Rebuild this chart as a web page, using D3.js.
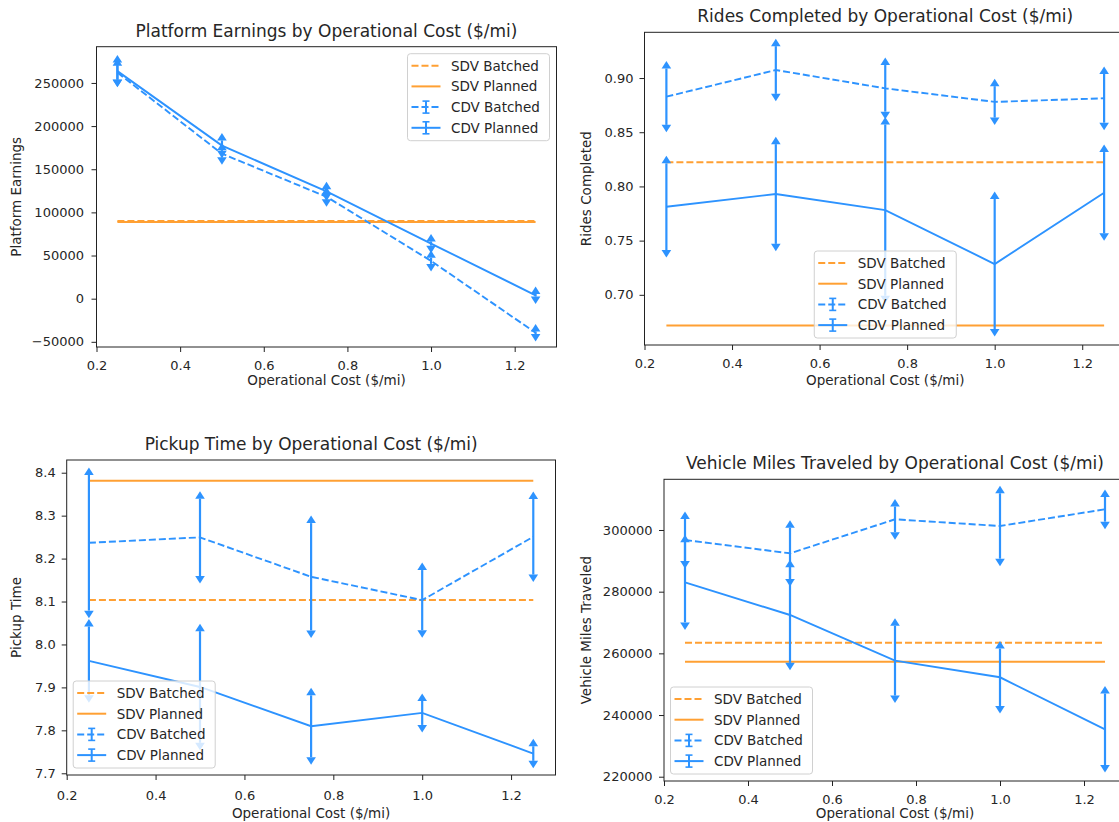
<!DOCTYPE html>
<html>
<head>
<meta charset="utf-8">
<script src="https://cdn.jsdelivr.net/npm/d3@7"></script>
<style>
  body { margin: 0; background: #fff; }
  svg text { font-family: "DejaVu Sans", sans-serif; fill: #262626; }
</style>
</head>
<body>
<svg id="chart" width="1119" height="822"></svg>
<script>
// operational cost ($/mi) used on every panel
var costs = [0.25, 0.5, 0.75, 1.0, 1.25];
var xTicks = [0.2, 0.4, 0.6, 0.8, 1.0, 1.2];
var seriesNames = ["SDV Batched", "SDV Planned", "CDV Batched", "CDV Planned"];

// Platform earnings
var earnBatched = [262000, 168000, 118100, 43800, -39500];
var earnBatchedErr = [8000, 4000, 3000, 3500, 1500];
var earnPlanned = [263700, 177400, 124300, 63900, 3900];
var earnPlannedErr = [10000, 6000, 2500, 2500, 1500];
var earnSdv = [90000, 89000]; // batched, planned
var earnTicks = [-50000, 0, 50000, 100000, 150000, 200000, 250000];

// Rides completed
var ridesBatched = [0.8828, 0.9074, 0.8905, 0.878, 0.8813];
var ridesBatchedErr = [0.026, 0.022, 0.0215, 0.0145, 0.0225];
var ridesPlanned = [0.7813, 0.793, 0.7782, 0.7284, 0.7942];
var ridesPlannedErr = [0.04, 0.046, 0.079, 0.06, 0.0375];
var ridesSdv = [0.8222, 0.6718];
var ridesTicks = [0.70, 0.75, 0.80, 0.85, 0.90];

// Pickup time
var pickBatched = [8.2368, 8.2494, 8.1576, 8.1033, 8.2508];
var pickBatchedErr = [0.158, 0.09, 0.125, 0.07, 0.088];
var pickPlanned = [7.9618, 7.901, 7.8096, 7.8406, 7.746];
var pickPlannedErr = [0.08, 0.13, 0.072, 0.028, 0.017];
var pickSdv = [8.1033, 8.381];
var pickTicks = [7.7, 7.8, 7.9, 8.0, 8.1, 8.2, 8.3, 8.4];

// Vehicle miles traveled
var vmtBatched = [296760, 292440, 303460, 301300, 306710];
var vmtBatchedErr = [6800, 8300, 4150, 10600, 4000];
var vmtPlanned = [283040, 272440, 257630, 252240, 235380];
var vmtPlannedErr = [13000, 15500, 11300, 9300, 11600];
var vmtSdv = [263460, 257300];
var vmtTicks = [220000, 240000, 260000, 280000, 300000];

var orange = "#ffa033", blue = "#2d93ff";

var panels = [
  {title: "Platform Earnings by Operational Cost ($/mi)", ylabel: "Platform Earnings",
   batched: earnBatched, batchedErr: earnBatchedErr, planned: earnPlanned, plannedErr: earnPlannedErr,
   sdv: earnSdv, ticks: earnTicks, fmt: d3.format("d"), yDomain: [-56000, 292000],
   box: {l: 96.5, r: 556.5, t: 46.7, b: 347}, yl: 20.5, legend: "ur",
   xpad: 9, ypad: 7.5, xlab: 38},
  {title: "Rides Completed by Operational Cost ($/mi)", ylabel: "Rides Completed",
   batched: ridesBatched, batchedErr: ridesBatchedErr, planned: ridesPlanned, plannedErr: ridesPlannedErr,
   sdv: ridesSdv, ticks: ridesTicks, fmt: d3.format(".2f"), yDomain: [0.6537, 0.9422],
   box: {l: 644.5, r: 1126, t: 32.3, b: 345}, yl: 591, legend: "lc",
   xpad: 9, ypad: 6, xlab: 40},
  {title: "Pickup Time by Operational Cost ($/mi)", ylabel: "Pickup Time",
   batched: pickBatched, batchedErr: pickBatchedErr, planned: pickPlanned, plannedErr: pickPlannedErr,
   sdv: pickSdv, ticks: pickTicks, fmt: d3.format(".1f"), yDomain: [7.696, 8.4296],
   box: {l: 66.7, r: 555.5, t: 460, b: 775}, yl: 20.5, legend: "ll",
   xpad: 10.5, ypad: 6, xlab: 42.5},
  {title: "Vehicle Miles Traveled by Operational Cost ($/mi)", ylabel: "Vehicle Miles Traveled",
   batched: vmtBatched, batchedErr: vmtBatchedErr, planned: vmtPlanned, plannedErr: vmtPlannedErr,
   sdv: vmtSdv, ticks: vmtTicks, fmt: d3.format("d"), yDomain: [218610, 316440],
   box: {l: 664, r: 1126, t: 479.3, b: 781}, yl: 591, legend: "ll",
   xpad: 9, ypad: 6.5, xlab: 37}
];

var svg = d3.select("#chart");

panels.forEach(drawPanel);

function drawPanel(p) {
  var b = p.box;
  var x = d3.scaleLinear().domain([0.2, 1.3]).range([b.l, b.r]);
  var y = d3.scaleLinear().domain(p.yDomain).range([b.b, b.t]);
  var g = svg.append("g");

  // SDV reference lines
  [0, 1].forEach(function(k) {
    g.append("line")
      .attr("x1", x(costs[0])).attr("x2", x(costs[costs.length - 1]))
      .attr("y1", y(p.sdv[k])).attr("y2", y(p.sdv[k]))
      .attr("stroke", orange).attr("stroke-width", 2)
      .attr("stroke-dasharray", k == 0 ? "7,3" : null);
  });

  // CDV error bar series
  errSeries(g, x, y, p.batched, p.batchedErr, true);
  errSeries(g, x, y, p.planned, p.plannedErr, false);

  // frame
  g.append("rect")
    .attr("x", b.l).attr("y", b.t)
    .attr("width", b.r - b.l).attr("height", b.b - b.t)
    .attr("fill", "none").attr("stroke", "#222").attr("stroke-width", 1);

  var xAxis = g.append("g")
    .attr("transform", "translate(0," + b.b + ")")
    .call(d3.axisBottom(x).tickValues(xTicks).tickSize(5).tickPadding(p.xpad).tickFormat(d3.format(".1f")));
  var yAxis = g.append("g")
    .attr("transform", "translate(" + b.l + ",0)")
    .call(d3.axisLeft(y).tickValues(p.ticks).tickSize(5).tickPadding(p.ypad).tickFormat(p.fmt));
  [xAxis, yAxis].forEach(function(a) {
    a.select(".domain").remove();
    a.selectAll("line").attr("stroke", "#222");
    a.selectAll("text").attr("font-size", "13px").attr("font-family", null).attr("fill", "#262626");
  });

  g.append("text")
    .attr("x", (b.l + b.r) / 2).attr("y", b.t - 10)
    .attr("text-anchor", "middle").attr("font-size", "17px")
    .text(p.title);
  g.append("text")
    .attr("x", (b.l + b.r) / 2).attr("y", b.b + p.xlab)
    .attr("text-anchor", "middle").attr("font-size", "13.5px")
    .text("Operational Cost ($/mi)");
  g.append("text")
    .attr("transform", "translate(" + p.yl + "," + (b.t + b.b) / 2 + ")rotate(-90)")
    .attr("text-anchor", "middle").attr("font-size", "13.5px")
    .text(p.ylabel);

  drawLegend(g, p);
}

function errSeries(g, x, y, vals, errs, dashed) {
  var pts = costs.map(function(c, i) { return {x: c, m: vals[i], e: errs[i]}; });
  g.append("path")
    .datum(pts)
    .attr("fill", "none").attr("stroke", blue).attr("stroke-width", 1.9)
    .attr("stroke-dasharray", dashed ? "7,3" : null)
    .attr("d", d3.line().x(function(d) { return x(d.x); }).y(function(d) { return y(d.m); }));

  var bar = g.selectAll(null).data(pts).enter().append("g");
  bar.append("line")
    .attr("x1", function(d) { return x(d.x); }).attr("x2", function(d) { return x(d.x); })
    .attr("y1", function(d) { return y(d.m - d.e); }).attr("y2", function(d) { return y(d.m + d.e); })
    .attr("stroke", blue).attr("stroke-width", 2.2);
  // arrow caps
  bar.append("path")
    .attr("fill", blue)
    .attr("d", function(d) {
      var cx = x(d.x), ty = y(d.m + d.e);
      return "M" + (cx - 4.8) + "," + ty + "L" + cx + "," + (ty - 7.5) + "L" + (cx + 4.8) + "," + ty + "Z";
    });
  bar.append("path")
    .attr("fill", blue)
    .attr("d", function(d) {
      var cx = x(d.x), by = y(d.m - d.e);
      return "M" + (cx - 4.8) + "," + by + "L" + cx + "," + (by + 7.5) + "L" + (cx + 4.8) + "," + by + "Z";
    });
}

function drawLegend(g, p) {
  var b = p.box, w = 142, h = 87, lx, ly;
  if (p.legend == "ur") { lx = b.r - 7 - w; ly = b.t + 7; }
  else if (p.legend == "lc") { lx = (b.l + b.r) / 2 - w / 2; ly = b.b - 7 - h; }
  else { lx = b.l + 6.5; ly = b.b - 7 - h; }

  var lg = g.append("g").attr("transform", "translate(" + lx + "," + ly + ")");
  lg.append("rect")
    .attr("width", w).attr("height", h).attr("rx", 3)
    .attr("fill", "#fff").attr("fill-opacity", 0.8)
    .attr("stroke", "#d0d0d0").attr("stroke-width", 1);

  seriesNames.forEach(function(name, i) {
    var cy = 12 + i * 20.7;
    var col = i < 2 ? orange : blue;
    lg.append("line")
      .attr("x1", 4).attr("x2", 33).attr("y1", cy).attr("y2", cy)
      .attr("stroke", col).attr("stroke-width", 2)
      .attr("stroke-dasharray", i % 2 == 0 ? "7,3" : null);
    if (i >= 2) {
      lg.append("line").attr("x1", 18.5).attr("x2", 18.5).attr("y1", cy - 6).attr("y2", cy + 6)
        .attr("stroke", blue).attr("stroke-width", 2);
      [-6, 6].forEach(function(o) {
        lg.append("line").attr("x1", 15).attr("x2", 22).attr("y1", cy + o).attr("y2", cy + o)
          .attr("stroke", blue).attr("stroke-width", 1.6);
      });
    }
    lg.append("text")
      .attr("x", 43.5).attr("y", cy).attr("dy", "0.36em")
      .attr("font-size", "13.5px")
      .text(name);
  });
}
</script>
</body>
</html>
